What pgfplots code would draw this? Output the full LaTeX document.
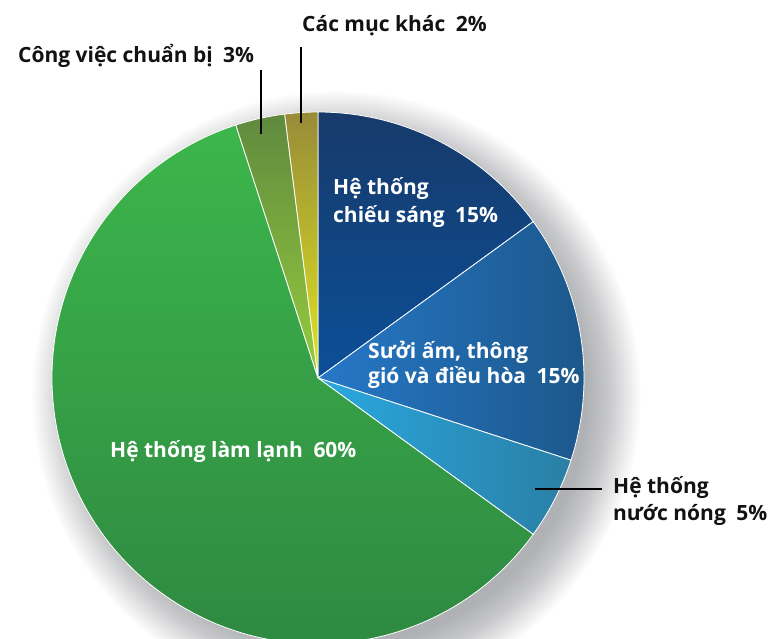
\documentclass[border=0pt]{standalone}
\usepackage{pgfplots}
\pgfplotsset{compat=1.18}
\usepackage{pgfplotstable}
\usepackage{fontspec}
\setmainfont{Open Sans}
\definecolor{shd}{HTML}{B0B1B4}
\definecolor{aT}{HTML}{173A6A}\definecolor{aB}{HTML}{0B4F98}
\definecolor{bL}{HTML}{2678C8}\definecolor{bR}{HTML}{1C5688}
\definecolor{cL}{HTML}{29A8DF}\definecolor{cR}{HTML}{2A7FA5}
\definecolor{dT}{HTML}{3CB64B}\definecolor{dB}{HTML}{2E8641}
\definecolor{eT}{HTML}{5F8A3E}\definecolor{eB}{HTML}{97CC3E}
\definecolor{fT}{HTML}{988C38}\definecolor{fB}{HTML}{E0E521}
\pgfdeclareradialshading{pieshadow}{\pgfpoint{0bp}{0bp}}{color(0bp)=(shd); color(20.2bp)=(shd); color(22bp)=(shd!70); color(24.6bp)=(white); color(50bp)=(white)}
% slice shares in percent, clockwise from the top
\pgfplotstableread{
start end
0  15
15 30
30 35
35 95
95 98
98 100
}\slices
% centre (318,261), radius 266 in axis units (1 unit = 1bp)
\newcommand{\slice}[3]{%
  \path[draw=white,line width=0.8bp,#3] (axis cs:318,261) --
    (axis cs:{318+266*cos(90-3.6*#1)},{261+266*sin(90-3.6*#1)})
    arc[start angle={90-3.6*#1}, end angle={90-3.6*#2}, radius=266bp] -- cycle;}
\begin{document}
\begin{tikzpicture}
\begin{axis}[at={(0,0)},anchor=south west,x=1bp,y=1bp,
  xmin=0,xmax=776,ymin=0,ymax=639,hide axis,clip=true]
\addplot[draw=none] coordinates {(0,0) (776,639)};
\path[shading=pieshadow] (axis cs:336,244) circle[radius=310bp];
\pgfplotstablegetelem{0}{start}\of\slices\let\sA\pgfplotsretval
\pgfplotstablegetelem{0}{end}\of\slices\let\eA\pgfplotsretval
\pgfplotstablegetelem{1}{end}\of\slices\let\eB\pgfplotsretval
\pgfplotstablegetelem{2}{end}\of\slices\let\eC\pgfplotsretval
\pgfplotstablegetelem{3}{end}\of\slices\let\eD\pgfplotsretval
\pgfplotstablegetelem{4}{end}\of\slices\let\eE\pgfplotsretval
\pgfplotstablegetelem{5}{end}\of\slices\let\eF\pgfplotsretval
\edef\doslices{%
\noexpand\slice{\sA}{\eA}{top color=aT,bottom color=aB}%
\noexpand\slice{\eA}{\eB}{left color=bL,right color=bR}%
\noexpand\slice{\eB}{\eC}{left color=cL,right color=cR}%
\noexpand\slice{\eC}{\eD}{top color=dT,bottom color=dB}%
\noexpand\slice{\eD}{\eE}{top color=eT,bottom color=eB}%
\noexpand\slice{\eE}{\eF}{top color=fT,bottom color=fB}}
\doslices
\draw[line width=2.2bp,black] (axis cs:261,569) -- (axis cs:261,505);
\draw[line width=2.2bp,black] (axis cs:301,592) -- (axis cs:301,516);
\draw[line width=2.2bp,black] (axis cs:535,150) -- (axis cs:602,150);
\tikzset{lab/.style={anchor=base west,inner sep=0pt,font=\fontsize{21bp}{25bp}\selectfont\bfseries}}
\node[lab,white] at (axis cs:110,182) {Hệ thống làm lạnh\enspace 60\%};
\node[lab,white] at (axis cs:333,444) {Hệ thống};
\node[lab,white] at (axis cs:333,416) {chiếu sáng\enspace 15\%};
\node[lab,white] at (axis cs:368,281) {Sưởi ấm, thông};
\node[lab,white] at (axis cs:368,256) {gió và điều hòa\enspace 15\%};
\node[lab,black!93] at (axis cs:613,146) {Hệ thống};
\node[lab,black!93] at (axis cs:613,119) {nước nóng\enspace 5\%};
\node[lab,black!93] at (axis cs:18,576) {Công việc chuẩn bị\enspace 3\%};
\node[lab,black!93] at (axis cs:302,607) {Các mục khác\enspace 2\%};
\end{axis}
\pgfresetboundingbox
\useasboundingbox (0,0) rectangle (776bp,639bp);
\end{tikzpicture}
\end{document}
